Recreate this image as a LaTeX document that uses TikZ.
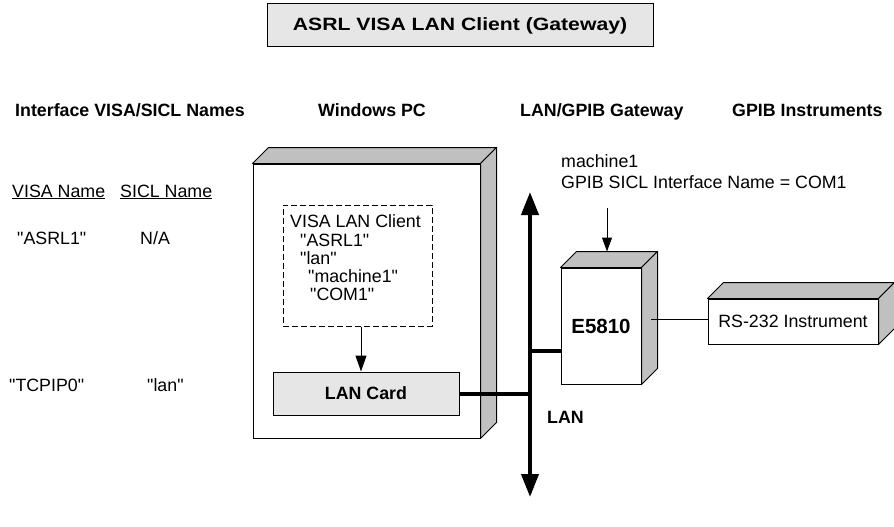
\documentclass[tikz,border=0pt]{standalone}
\usepackage{fontspec}
\setmainfont{Liberation Sans}[Ligatures=TeXOff]
\newfontfamily\titlefont[FakeStretch=1.19,Ligatures=TeXOff]{Liberation Sans}
\usetikzlibrary{arrows.meta,calc}
\definecolor{boxgray}{RGB}{230,230,230}
\definecolor{sidegray}{RGB}{192,192,192}
\tikzset{
  txt/.style={inner sep=0pt, anchor=base west, font=\fontsize{17.8}{20}\selectfont},
  btxt/.style={inner sep=0pt, anchor=base west, font=\fontsize{17.8}{20}\selectfont\bfseries},
  front/.style={draw=black, line width=1pt, fill=white, inner sep=0pt},
  face/.style={draw=black, line width=1pt, fill=sidegray, line join=round},
  busline/.style={line width=4pt},
  thinarrow/.style={line width=1pt, -{Triangle[width=11pt,length=16pt]}},
  gwarrow/.style={line width=1pt, -{Triangle[width=10pt,length=14pt]}},
  dashbox/.style={draw=black, line width=1pt, dash pattern=on 6pt off 3pt, inner sep=0pt},
}
\newcommand\mycubefaces[1]{%
  \draw[face] (#1.north west) -- ++(16,-16) -- ($(#1.north east)+(16,-16)$) -- (#1.north east) -- cycle;
  \draw[face] (#1.north east) -- ++(16,-16) -- ($(#1.south east)+(16,-16)$) -- (#1.south east) -- cycle;
}
\begin{document}
\begin{tikzpicture}[x=1pt,y=-1pt]
\useasboundingbox (0,0) rectangle (894,527);

% title
\node[draw=black, line width=1pt, fill=boxgray, minimum width=386pt, minimum height=43pt, inner sep=0pt,
      font=\titlefont\fontsize{17.8}{20}\selectfont\bfseries] (title) at (460,25.5) {ASRL VISA LAN Client (Gateway)};

% column headings
\node[btxt] (h1) at (15,116) {Interface VISA/SICL Names};
\node[btxt] (h2) at (318,116) {Windows PC};
\node[btxt] (h3) at (520,116) {LAN/GPIB Gateway};
\node[btxt] (h4) at (732,116) {GPIB Instruments};

% left table
\node[txt] (vn) at (12,197) {\underline{VISA Name}};
\node[txt] (sn) at (120,197) {\underline{SICL Name}};
\node[txt] (v1) at (17,244) {"ASRL1"};
\node[txt] (s1) at (140,244) {N/A};
\node[txt] (v2) at (9,391) {"TCPIP0"};
\node[txt] (s2) at (147,391) {"lan"};

% Windows PC
\node[front, minimum width=227pt, minimum height=274pt] (pc) at (366.5,301) {};
\mycubefaces{pc}
\node[dashbox, minimum width=149pt, minimum height=121pt] (client) at (357.5,265.5) {};
\node[txt] (c1) at (290,227) {VISA LAN Client};
\node[txt] (c2) at (300,246) {"ASRL1"};
\node[txt] (c3) at (300,264) {"lan"};
\node[txt] (c4) at (308,282) {"machine1"};
\node[txt] (c5) at (310,300) {"COM1"};
\node[draw=black, line width=1pt, fill=boxgray, minimum width=186pt, minimum height=43pt, inner sep=0pt,
      font=\fontsize{17.8}{20}\selectfont\bfseries] (lancard) at (366,393.5) {LAN Card};
\draw[thinarrow] ([xshift=3.5pt]client.south) -- ([xshift=-5pt]lancard.north);

% LAN bus
\coordinate (bustop) at (530,192);
\coordinate (busbot) at (530,497);
\draw[busline, {Triangle[width=17pt,length=23pt]}-{Triangle[width=17pt,length=23pt]}] (bustop) -- (busbot);
\draw[busline] (lancard.east) -- (lancard.east -| bustop);
\node[btxt] (lanlbl) at (547,423) {LAN};

% Gateway
\node[front, minimum width=80pt, minimum height=116pt, font=\fontsize{20.5}{22}\selectfont\bfseries] (gw) at (601,326) {E5810};
\mycubefaces{gw}
\coordinate (gwtap) at (530,351);
\draw[busline] (gwtap) -- (gwtap -| gw.west);
\node[txt] (m1) at (561,167) {machine1};
\node[txt] (m2) at (561,188) {GPIB SICL Interface Name = COM1};
\coordinate (gwarr) at (607,208);
\draw[gwarrow] (gwarr) -- ($(gw.north)+(6,-16)$);

% RS-232 instrument
\node[front, minimum width=170pt, minimum height=45pt, font=\fontsize{17.8}{20}\selectfont] (rs) at (793,321.5) {RS-232 Instrument};
\mycubefaces{rs}
\coordinate (rsline) at (651,319);
\draw[line width=1pt] (rsline) -- (rsline -| rs.west);
\end{tikzpicture}
\end{document}
